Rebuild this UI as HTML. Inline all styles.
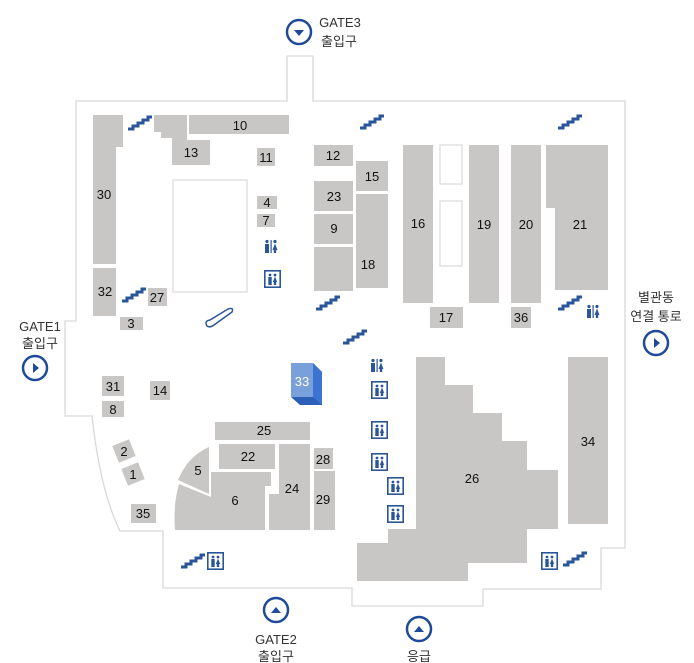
<!DOCTYPE html>
<html><head><meta charset="utf-8"><style>
html,body{margin:0;padding:0;background:#fff;width:694px;height:663px;overflow:hidden}
svg{display:block}
text{font-family:"Liberation Sans","Noto Sans CJK KR",sans-serif;font-size:13px;fill:#111;text-anchor:middle}
.g text,.lbl{font-size:13px;fill:#333}
</style></head><body>
<svg width="694" height="663" viewBox="0 0 694 663" xmlns="http://www.w3.org/2000/svg">
<defs>
<g id="st"><path d="M0 12 H5 V9 H10 V6 H15 V3 H20 V0 H24" fill="none" stroke="#2a5599" stroke-width="3"/></g>
<g id="wc" fill="#2a5599"><circle cx="3" cy="1.5" r="1.6"/><rect x="1" y="4" width="4" height="9"/><rect x="6.5" y="0" width="1.2" height="13"/><circle cx="11" cy="1.5" r="1.6"/><path d="M8.5 10 L11 3.5 L13.5 10 Z"/><rect x="9.8" y="9" width="2.4" height="4"/></g>
<g id="el"><rect x="0.8" y="0.8" width="15.4" height="16.4" fill="#fff" stroke="#2a5599" stroke-width="1.6"/><g fill="#2a5599"><circle cx="6" cy="5" r="1.4"/><rect x="4.3" y="7" width="3.4" height="8"/><circle cx="11" cy="5" r="1.4"/><path d="M8.8 12 L11 6.5 L13.2 12Z"/><rect x="9.8" y="11" width="2.4" height="4"/></g></g>
</defs>
<!-- outline -->
<path d="M76 101 H287 V56 H313 V101 H625 V548 H601 V589 H483 V606 H352 V588 H163 V531 H120 Q100 490 92 416 H65 V321 H76 Z" fill="#fff" stroke="#d9d9d9" stroke-width="1.3"/>
<g fill="#c8c7c6">
<path d="M93 115 H123 V147 H116 V264 H93 Z"/>
<rect x="93" y="268" width="23" height="48"/>
<path d="M154 115 H187 V140 H210 V165 H172 V138 H161 V132 H154 Z"/>
<rect x="189" y="115" width="100" height="19"/>
<rect x="257" y="148" width="18" height="18"/>
<rect x="257" y="196" width="20" height="13"/>
<rect x="257" y="214" width="18" height="13"/>
<rect x="148" y="288" width="19" height="18"/>
<rect x="120" y="317" width="23" height="13"/>
<rect x="314" y="145" width="39" height="21"/>
<rect x="356" y="161" width="32" height="30"/>
<rect x="314" y="181" width="39" height="30"/>
<rect x="314" y="214" width="39" height="30"/>
<path d="M314 247 H353 V288 H356 V194 H388 V288 H353 V291 H314 Z"/>
<rect x="403" y="145" width="30" height="158"/>
<rect x="469" y="145" width="30" height="158"/>
<rect x="511" y="145" width="30" height="158"/>
<path d="M546 145 H608 V290 H555 V208 H546 Z"/>
<rect x="430" y="307" width="33" height="21"/>
<rect x="511" y="307" width="20" height="21"/>
<rect x="102" y="376" width="22" height="20"/>
<rect x="102" y="401" width="22" height="16"/>
<rect x="150" y="381" width="20" height="19"/>
<rect x="115" y="442" width="18" height="18" transform="rotate(-22 124 451)"/>
<rect x="124" y="465" width="18" height="18" transform="rotate(-22 133 474)"/>
<rect x="131" y="504" width="25" height="19"/>
<rect x="215" y="422" width="95" height="18"/>
<rect x="219" y="444" width="56" height="25"/>
<path d="M209 447 V494 L178 480 Q188 456 209 447 Z"/>
<path d="M179 484 L211 497 V472 H271 V486 H265 V530 H175 Q173 505 179 484 Z"/>
<path d="M279 444 H310 V530 H269 V494 H279 Z"/>
<rect x="314" y="448" width="19" height="21"/>
<rect x="314" y="471" width="21" height="59"/>
<path d="M416 357 H445 V385 H473 V413 H502 V441 H527 V470 H558 V529 H527 V563 H468 V581 H357 V543 H388 V529 H416 Z"/>
<rect x="568" y="357" width="40" height="167"/>
</g>
<rect x="173" y="180" width="74" height="112" fill="none" stroke="#ddd" stroke-width="1.3"/>
<rect x="440" y="145" width="22" height="39" fill="none" stroke="#ddd" stroke-width="1.3"/>
<rect x="440" y="201" width="22" height="65" fill="none" stroke="#ddd" stroke-width="1.3"/>
<!-- 33 -->
<path d="M291 363 H313 L322 372 V405 H300 L291 397 Z" fill="#2d5fb8"/>
<path d="M313 363 L322 372 V405 L313 397 Z" fill="#3d74d4"/>
<rect x="291" y="363" width="22" height="34" fill="#7aa0dc"/>
<text x="302" y="386" style="fill:#fff">33</text>
<!-- labels -->
<text x="104" y="199">30</text><text x="105" y="296">32</text><text x="240" y="130">10</text><text x="191" y="157">13</text>
<text x="266" y="162">11</text><text x="267" y="207">4</text><text x="266" y="225">7</text><text x="157" y="302">27</text><text x="131" y="328">3</text>
<text x="333" y="160">12</text><text x="372" y="181">15</text><text x="334" y="201">23</text><text x="334" y="233">9</text><text x="368" y="269">18</text>
<text x="418" y="228">16</text><text x="484" y="229">19</text><text x="526" y="229">20</text><text x="580" y="229">21</text>
<text x="446" y="322">17</text><text x="521" y="322">36</text>
<text x="113" y="391">31</text><text x="113" y="414">8</text><text x="160" y="395">14</text>
<text x="124" y="456">2</text><text x="133" y="479">1</text><text x="143" y="518">35</text>
<text x="264" y="435">25</text><text x="248" y="461">22</text><text x="198" y="475">5</text><text x="235" y="505">6</text>
<text x="292" y="493">24</text><text x="323" y="464">28</text><text x="323" y="504">29</text>
<text x="472" y="483">26</text><text x="588" y="446">34</text>
<!-- stairs -->
<use href="#st" x="128" y="117"/><use href="#st" x="360" y="116"/><use href="#st" x="558" y="116"/>
<use href="#st" x="122" y="289"/><use href="#st" x="316" y="297"/><use href="#st" x="343" y="331"/>
<use href="#st" x="558" y="297"/><use href="#st" x="181" y="555"/><use href="#st" x="563" y="553"/>
<!-- toilets -->
<use href="#wc" x="264" y="240"/><use href="#wc" x="370" y="359"/><use href="#wc" x="586" y="305"/>
<!-- elevators -->
<use href="#el" x="264" y="270"/><use href="#el" x="371" y="381"/><use href="#el" x="371" y="421"/>
<use href="#el" x="371" y="453"/><use href="#el" x="387" y="477"/><use href="#el" x="387" y="505"/>
<use href="#el" x="207" y="552"/><use href="#el" x="541" y="552"/>
<!-- escalator -->
<path d="M207 326 Q204 321 210 320 L228 309 Q234 307 232 312 L214 325 Q210 328 207 326 Z" fill="none" stroke="#2a5599" stroke-width="1.5"/>
<!-- gates -->
<g fill="none" stroke="#1f4a9a" stroke-width="2.5">
<circle cx="299" cy="32" r="12"/><circle cx="35" cy="368" r="12"/><circle cx="276" cy="610" r="12"/><circle cx="419" cy="629" r="12"/><circle cx="656" cy="343" r="12"/>
</g>
<g fill="#1f4a9a">
<path d="M294 30 H304 L299 36Z"/><path d="M33 363 V373 L39 368Z"/><path d="M271 613 H281 L276 607Z"/><path d="M414 632 H424 L419 626Z"/><path d="M654 338 V348 L660 343Z"/>
</g>
<g class="g">
<text x="340" y="27">GATE3</text><text x="339" y="46">출입구</text>
<text x="40" y="331">GATE1</text><text x="40" y="348">출입구</text>
<text x="276" y="644">GATE2</text><text x="276" y="661">출입구</text>
<text x="419" y="661">응급</text>
<text x="656" y="302">별관동</text><text x="656" y="321">연결 통로</text>
</g>
</svg>
</body></html>
